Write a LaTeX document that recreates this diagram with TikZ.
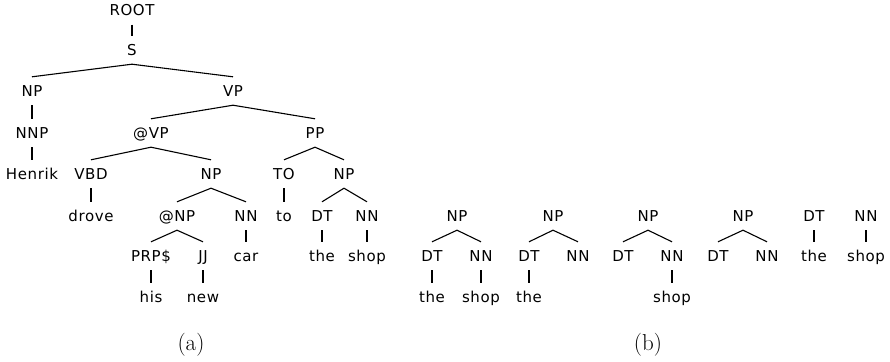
\documentclass[tikz,border=0pt]{standalone}
\usepackage{fontspec}
\newfontfamily\treefont[LetterSpace=4]{DejaVu Sans}
\begin{document}
\begin{tikzpicture}[x=1pt, y=-1pt,
  tn/.style={font=\treefont\fontsize{15}{18}\selectfont, inner sep=0pt,
    text height=10.9pt, text depth=0pt, minimum height=28pt},
  br/.style={line width=1.1pt},
  captext/.style={font=\fontsize{23}{27}\selectfont, inner sep=0pt}]
\useasboundingbox (0,0) rectangle (890,361);

% ---------- tree (a) ----------
\node[tn] (root) at (132,10.5) {ROOT};
\node[tn] (s)    at (132,50) {S};
\node[tn] (np1)  at (32,91) {NP};
\node[tn] (vp)   at (233,91) {VP};
\node[tn] (nnp)  at (32,133) {NNP};
\node[tn] (avp)  at (151,133) {@VP};
\node[tn] (pp)   at (315,133) {PP};
\node[tn] (henrik) at (32,174) {Henrik};
\node[tn] (vbd)  at (91,174) {VBD};
\node[tn] (np2)  at (211,174) {NP};
\node[tn] (to)   at (284,174) {TO};
\node[tn] (np3)  at (344,174) {NP};
\node[tn] (drove) at (91,216) {drove};
\node[tn] (anp)  at (177,216) {@NP};
\node[tn] (nn1)  at (246,216) {NN};
\node[tn] (tow)  at (284,216) {to};
\node[tn] (dt1)  at (322,216) {DT};
\node[tn] (nn2)  at (367,216) {NN};
\node[tn] (prp)  at (151,256) {PRP\$};
\node[tn] (jj)   at (203,256) {JJ};
\node[tn] (car)  at (246,256) {car};
\node[tn] (the1) at (322,256) {the};
\node[tn] (shop1) at (367,256) {shop};
\node[tn] (his)  at (151,297) {his};
\node[tn] (new)  at (203,297) {new};

\draw[br] (root.south) -- (s.north);
\draw[br] (np1.north) -- (s.south) -- (vp.north);
\draw[br] (np1.south) -- (nnp.north);
\draw[br] (nnp.south) -- (henrik.north);
\draw[br] (avp.north) -- (vp.south) -- (pp.north);
\draw[br] (vbd.north) -- (avp.south) -- (np2.north);
\draw[br] (to.north) -- (pp.south) -- (np3.north);
\draw[br] (vbd.south) -- (drove.north);
\draw[br] (anp.north) -- (np2.south) -- (nn1.north);
\draw[br] (to.south) -- (tow.north);
\draw[br] (dt1.north) -- (np3.south) -- (nn2.north);
\draw[br] (prp.north) -- (anp.south) -- (jj.north);
\draw[br] (nn1.south) -- (car.north);
\draw[br] (dt1.south) -- (the1.north);
\draw[br] (nn2.south) -- (shop1.north);
\draw[br] (prp.south) -- (his.north);
\draw[br] (jj.south) -- (new.north);

% ---------- fragments (b) ----------
% fragment 1: full NP
\node[tn] (bnp1) at (457,216) {NP};
\node[tn] (bdt1) at (432,256) {DT};
\node[tn] (bnn1) at (481,256) {NN};
\node[tn] (bthe1) at (432,297) {the};
\node[tn] (bshop1) at (481,297) {shop};
\draw[br] (bdt1.north) -- (bnp1.south) -- (bnn1.north);
\draw[br] (bdt1.south) -- (bthe1.north);
\draw[br] (bnn1.south) -- (bshop1.north);

% fragment 2: NP with "the"
\node[tn] (bnp2) at (553,216) {NP};
\node[tn] (bdt2) at (529,256) {DT};
\node[tn] (bnn2) at (578,256) {NN};
\node[tn] (bthe2) at (529,297) {the};
\draw[br] (bdt2.north) -- (bnp2.south) -- (bnn2.north);
\draw[br] (bdt2.south) -- (bthe2.north);

% fragment 3: NP with "shop"
\node[tn] (bnp3) at (648,216) {NP};
\node[tn] (bdt3) at (623,256) {DT};
\node[tn] (bnn3) at (672,256) {NN};
\node[tn] (bshop3) at (672,297) {shop};
\draw[br] (bdt3.north) -- (bnp3.south) -- (bnn3.north);
\draw[br] (bnn3.south) -- (bshop3.north);

% fragment 4: bare NP
\node[tn] (bnp4) at (743,216) {NP};
\node[tn] (bdt4) at (718,256) {DT};
\node[tn] (bnn4) at (767,256) {NN};
\draw[br] (bdt4.north) -- (bnp4.south) -- (bnn4.north);

% fragments 5 and 6: preterminals
\node[tn] (bdt5) at (814,216) {DT};
\node[tn] (bthe5) at (814,256) {the};
\node[tn] (bnn6) at (866,216) {NN};
\node[tn] (bshop6) at (866,256) {shop};
\draw[br] (bdt5.south) -- (bthe5.north);
\draw[br] (bnn6.south) -- (bshop6.north);

% ---------- captions ----------
\node[captext] (capa) at (191,345) {(a)};
\node[captext] (capb) at (648,345) {(b)};
\end{tikzpicture}
\end{document}
